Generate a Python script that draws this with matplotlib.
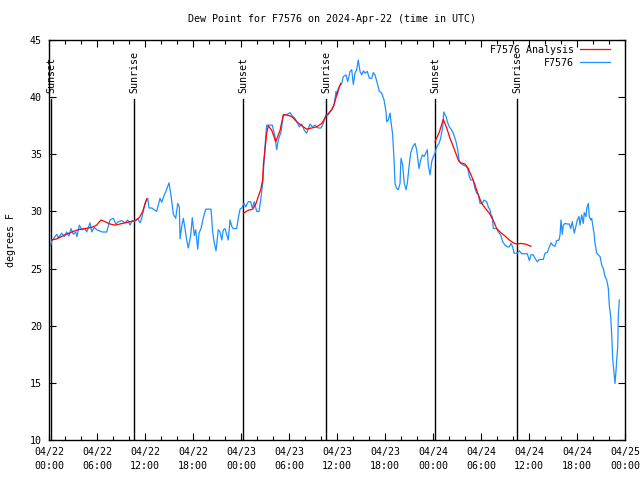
import matplotlib
matplotlib.use("Agg")
import matplotlib.pyplot as plt
import matplotlib.dates as mdates
import numpy as np
import pandas as pd

plt.rcParams['font.family'] = ['DejaVu Sans Mono']
FS = 7.2

start = pd.Timestamp("2024-04-22 00:00")

# Observations (hours since 04/22 00:00 UTC, dew point F)
obs_hours = [0.0, 0.21, 0.34, 0.96, 1.16, 1.59, 1.91, 2.21, 2.5, 2.75, 3.04, 3.34, 3.5, 3.79, 4.09, 4.5, 4.71,
             5.13, 5.34, 5.66, 5.96, 6.66, 7.21, 7.63, 8.04, 8.34, 8.66, 9.09, 9.5, 9.84, 10.13, 10.41, 10.66,
             11.09, 11.38, 11.59, 12.0, 12.34, 12.5, 12.84, 13.46, 13.88, 14.09, 14.38, 14.59, 15.0, 15.25,
             15.54, 15.84, 16.09, 16.29, 16.38, 16.59, 16.79, 17.0, 17.21, 17.41, 17.71, 17.91, 18.16, 18.34,
             18.59, 18.75, 19.0, 19.29, 19.59, 20.0, 20.25, 20.46, 20.63, 20.88, 21.16, 21.38, 21.59, 21.79,
             22.0, 22.41, 22.63, 22.84, 23.04, 23.46, 23.66, 23.88, 24.09, 24.38, 24.59, 24.91, 25.21, 25.41,
             25.66, 25.96, 26.25, 26.46, 26.71, 27.0, 27.21, 27.91, 28.25, 28.46, 28.66, 29.0, 29.29, 29.71,
             30.13, 30.41, 30.75, 31.09, 31.29, 31.59, 31.91, 32.21, 32.63, 32.91, 33.25, 33.66, 34.0, 34.29,
             34.59, 34.91, 35.13, 35.34, 35.63, 35.88, 36.04, 36.29, 36.59, 36.79, 37.13, 37.34, 37.63, 37.84,
             38.04, 38.25, 38.46, 38.66, 38.88, 39.09, 39.29, 39.5, 39.79, 40.04, 40.34, 40.54, 40.75, 41.04,
             41.29, 41.59, 41.88, 42.13, 42.21, 42.41, 42.63, 42.75, 42.96, 43.13, 43.25, 43.46, 43.66, 43.88,
             44.0, 44.21, 44.41, 44.63, 44.79, 45.0, 45.21, 45.46, 45.75, 45.96, 46.25, 46.46, 46.66, 46.88,
             47.09, 47.29, 47.41, 47.63, 47.84, 48.04, 48.25, 48.46, 48.75, 48.96, 49.21, 49.34, 49.63, 49.79,
             50.04, 50.34, 50.54, 50.88, 51.09, 51.29, 51.5, 51.79, 52.13, 52.34, 52.54, 52.71, 53.04, 53.25,
             53.46, 53.66, 53.88, 54.16, 54.38, 54.71, 54.91, 55.13, 55.25, 55.41, 55.54, 55.96, 56.16, 56.46,
             56.71, 57.0, 57.29, 57.54, 57.75, 57.96, 58.13, 58.54, 58.79, 59.09, 59.79, 60.04, 60.25, 60.54,
             60.75, 61.04, 61.29, 61.79, 62.0, 62.29, 62.54, 62.75, 62.96, 63.25, 63.46, 63.75, 63.88, 64.0,
             64.16, 64.29, 64.5, 64.79, 65.04, 65.21, 65.41, 65.66, 65.88, 66.04, 66.25, 66.38, 66.59, 66.79,
             66.91, 67.13, 67.21, 67.41, 67.54, 67.71, 67.84, 67.96, 68.13, 68.25, 68.46, 68.66, 68.88, 69.09,
             69.29, 69.5, 69.71, 69.91, 70.04, 70.21, 70.34, 70.46, 70.63, 70.75, 70.88, 70.96, 71.09, 71.16,
             71.29]
obs_values = [27.15, 27.0, 27.4, 28.0, 27.7, 28.1, 27.8, 28.2, 27.85, 28.5, 28.0, 28.2, 27.8, 28.8, 28.4, 28.5, 28.2,
              29.0, 28.2, 28.6, 28.4, 28.2, 28.2, 29.25, 29.4, 28.9, 29.1, 29.2, 29.0, 29.25, 28.8, 29.2, 29.1,
              29.35, 29.0, 29.4, 30.7, 31.15, 30.3, 30.3, 30.0, 31.15, 30.8, 31.4, 31.7, 32.5, 31.4,
              29.75, 29.4, 30.7, 30.4, 27.6, 28.7, 29.4, 28.5, 27.5, 26.8, 27.9, 29.45, 27.9, 28.4,
              26.7, 28.1, 28.5, 29.45, 30.2, 30.2, 30.2, 28.2, 27.35, 26.55, 28.4, 28.2, 27.5, 28.4,
              28.5, 27.5, 29.25, 28.7, 28.5, 28.5, 29.4, 30.2, 30.3, 30.7, 30.4, 30.85, 30.85, 30.3,
              30.85, 30.0, 30.0, 31.0, 32.45, 35.7, 37.55, 37.55, 36.55, 35.4, 36.25, 36.95, 38.45, 38.45,
              38.65, 38.35, 38.15, 37.7, 37.4, 37.65, 37.1, 36.85, 37.65, 37.4, 37.55, 37.3, 37.3, 37.7,
              38.45, 38.45, 38.7, 38.9, 39.3, 40.5, 40.2, 40.9, 41.2, 41.8, 41.95, 41.35, 42.25, 42.4,
              41.1, 42.1, 42.4, 43.25, 42.25, 41.95, 42.3, 42.1, 42.25, 41.65, 41.65, 42.15, 41.95, 41.2,
              40.5, 40.35, 39.75, 38.7, 37.85, 38.0, 38.6, 37.85, 36.7, 34.5, 32.45, 32.0, 31.9, 32.45,
              34.65, 34.05, 32.45, 31.9, 32.45, 33.9, 35.1, 35.65, 35.95, 35.4, 33.75, 34.5, 34.95, 34.8,
              35.1, 35.4, 34.05, 33.2, 34.35, 34.8, 35.1, 35.65, 35.95, 36.4, 37.4, 38.7, 38.3, 37.85,
              37.4, 37.1, 36.85, 36.1, 35.4, 34.35, 34.2, 34.05, 33.95, 33.75, 33.05, 32.75, 32.75, 32.0,
              31.6, 31.5, 30.7, 30.7, 31.0, 30.85, 30.4, 30.1, 29.7, 29.55, 28.5, 28.5, 28.2, 27.95,
              27.35, 27.05, 26.9, 26.9, 27.2, 26.9, 26.35, 26.35, 26.55, 26.3, 26.3, 25.7, 26.2, 26.2,
              25.9, 25.6, 25.8, 25.8, 26.35, 26.4, 26.9, 27.25, 27.05, 26.95, 27.45, 27.5, 27.95, 29.25,
              28.0, 28.8, 28.95, 28.9, 28.9, 28.5, 29.1, 28.1, 28.75, 29.25, 29.55, 28.8, 29.7, 28.95,
              29.9, 29.55, 30.25, 30.7, 29.55, 29.25, 29.4, 28.8, 28.1, 27.2, 26.35, 26.2, 26.05, 25.3,
              25.0, 24.3, 24.0, 23.3, 21.8, 20.8, 19.2, 17.15, 15.85, 14.95, 16.1, 17.0, 18.15, 20.8,
              22.25]

# Analysis (NaN separates segments)
ana_hours = [0.34, 0.96, 2.0, 2.84, 3.66, 4.5, 5.34, 5.96, 6.5, 7.0, 7.63, 8.25, 8.88, 9.5, 10.13, 10.75,
             11.29, 11.71, 12.21, 12.22,
             24.29, 24.91, 25.46, 25.88, 26.16, 26.46, 26.71, 26.79, 27.0, 27.21, 27.41, 27.84, 28.34,
             28.88, 29.29, 29.71, 30.34, 30.96, 31.59, 32.21, 32.84, 33.46, 34.09, 34.71, 35.34, 35.66,
             36.16, 36.46, 36.47,
             48.25, 48.79, 49.29, 49.71, 50.13, 50.63, 51.16, 51.46, 52.0, 52.41, 52.84, 53.25, 53.66,
             54.09, 54.5, 55.04, 55.54, 55.96, 56.46, 57.0, 57.54, 58.04, 58.46, 58.96, 59.5, 59.91, 60.25]
ana_values = [27.5, 27.6, 27.95, 28.2, 28.4, 28.5, 28.6, 28.8, 29.25, 29.1, 28.9, 28.8, 28.9, 29.0, 29.1, 29.2,
              29.45, 30.0, 31.1, np.nan,
              29.85, 30.1, 30.2, 30.7, 31.3, 31.9, 32.75, 34.05, 35.4, 36.85, 37.5, 37.1, 36.1,
              37.1, 38.45, 38.45, 38.3, 37.85, 37.5, 37.2, 37.3, 37.4, 37.7, 38.4, 38.9, 39.4,
              40.7, 41.2, np.nan,
              36.1, 36.95, 38.05, 37.3, 36.4, 35.5, 34.5, 34.25, 34.15, 33.75, 33.05, 32.3, 31.45,
              30.7, 30.3, 29.85, 29.2, 28.5, 28.15, 27.85, 27.5, 27.25, 27.15, 27.2, 27.15, 27.05, 26.95]

# Sun events (hours since start)
event_hours = [0.25, 10.66, 24.29, 34.66, 48.29, 58.54]
event_labels = ["Sunset", "Sunrise", "Sunset", "Sunrise", "Sunset", "Sunrise"]

obs_t = start + pd.to_timedelta(obs_hours, unit="h")
ana_t = start + pd.to_timedelta(ana_hours, unit="h")
ev_t = start + pd.to_timedelta(event_hours, unit="h")

fig = plt.figure(figsize=(6.4, 4.8), dpi=100)
ax = fig.add_axes([49/640, 40/480, 576/640, 400/480])

ax.plot(ana_t, ana_values, color="#ff0000", lw=0.9, label="F7576 Analysis", zorder=3)
ax.plot(obs_t, obs_values, color="#1e90ff", lw=0.9, label="F7576", zorder=2)

for t, lab in zip(ev_t, event_labels):
    ax.plot([t, t], [0, 0.8525], transform=ax.get_xaxis_transform(), color="black", lw=1.0, zorder=1)
    ax.text(t, 0.868, lab, transform=ax.get_xaxis_transform(), rotation=90,
            ha="center", va="bottom", fontsize=FS)

ax.set_xlim(start, start + pd.Timedelta(hours=72))
ax.set_ylim(10, 45)
ax.set_yticks(np.arange(10, 46, 5))
ax.xaxis.set_major_locator(mdates.HourLocator(byhour=[0, 6, 12, 18]))
ax.xaxis.set_minor_locator(mdates.HourLocator(byhour=range(0, 24, 2)))
ax.xaxis.set_major_formatter(mdates.DateFormatter("%m/%d\n%H:%M"))

ax.tick_params(axis="both", which="major", direction="in", length=5, width=0.8,
               top=True, right=True, labelsize=FS, pad=5)
ax.tick_params(axis="x", which="minor", direction="in", length=3, width=0.8, top=True)
for lab in ax.get_xticklabels():
    lab.set_linespacing(1.45)
for s in ax.spines.values():
    s.set_linewidth(1.0)

ax.set_ylabel("degrees F", fontsize=FS, labelpad=10)
fig.suptitle("Dew Point for F7576 on 2024-Apr-22 (time in UTC)", fontsize=FS, x=332/640, y=1 - 19/480, va="center")

ax.legend(loc="upper right", frameon=False, markerfirst=False, fontsize=FS, handlelength=3.0,
          borderaxespad=0.0, borderpad=0.5, labelspacing=0.3, handletextpad=0.6,
          bbox_to_anchor=(1 - 10/576, 1.0))

fig.savefig("out.png", dpi=100)
